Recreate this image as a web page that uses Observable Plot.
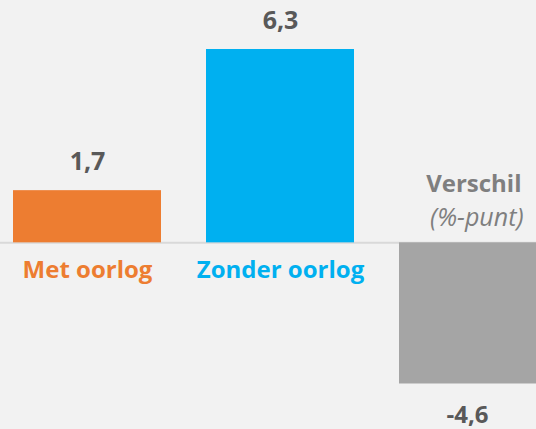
<!DOCTYPE html>
<html>
<head>
<meta charset="utf-8">
<script src="https://cdn.jsdelivr.net/npm/d3@7"></script>
<script src="https://cdn.jsdelivr.net/npm/@observablehq/plot@0.6"></script>
<style>
  html, body { margin: 0; padding: 0; background: #f2f2f2; overflow: hidden; }
  #chart svg { display: block; }
</style>
</head>
<body>
<div id="chart"></div>
<script>
const categories = ["Met oorlog", "Zonder oorlog", "Verschil"];
const values = [1.7, 6.3, -4.6];
const valueLabels = ["1,7", "6,3", "-4,6"];
const subLabels = ["", "", "(%-punt)"];

const barColors = ["#ED7D31", "#00B0F0", "#A5A5A5"];
const labelColors = ["#ED7D31", "#00B0F0", "#7F7F7F"];

const data = categories.map((c, i) => ({
  cat: c, value: values[i], label: valueLabels[i], sub: subLabels[i],
  labelColor: labelColors[i]
}));
const pos = data.filter(d => d.value >= 0);
const neg = data.filter(d => d.value < 0);

const font = "'Open Sans', sans-serif";

const chart = Plot.plot({
  width: 536,
  height: 429,
  margin: 0,
  style: { background: "#f2f2f2", fontFamily: font, overflow: "visible" },
  x: { domain: categories, range: [12, 547], paddingInner: 0.235, paddingOuter: 0, axis: null },
  y: { domain: [-4.6, 6.3], range: [383.5, 49], axis: null },
  color: { domain: categories, range: barColors },
  marks: [
    Plot.ruleY([0], { stroke: "#D9D9D9", strokeWidth: 2 }),
    Plot.barY(data, { x: "cat", y: "value", fill: "cat" }),
    // value labels
    Plot.text(pos, { x: "cat", y: "value", text: "label", lineAnchor: "bottom", dy: -21,
      fill: "#595959", fontSize: 25, fontWeight: "bold", fontFamily: font }),
    Plot.text(neg, { x: "cat", y: "value", text: "label", lineAnchor: "bottom", dy: 39, dx: -6,
      fill: "#595959", fontSize: 24, fontWeight: "bold", fontFamily: font }),
    // category labels
    Plot.text(pos, { x: "cat", y: () => 0, text: "cat", lineAnchor: "bottom", dy: 35,
      fill: "labelColor", fontSize: 24, fontWeight: "bold", fontFamily: font }),
    Plot.text(neg, { x: "cat", y: () => 0, text: "cat", lineAnchor: "bottom", dy: -51, dx: 48,
      textAnchor: "end", fill: "labelColor", fontSize: 24, fontWeight: "bold", fontFamily: font }),
    Plot.text(neg, { x: "cat", y: () => 0, text: "sub", lineAnchor: "bottom", dy: -17, dx: 50,
      textAnchor: "end", fill: "labelColor", fontSize: 25, fontStyle: "italic", fontFamily: font })
  ]
});
document.getElementById("chart").appendChild(chart);
</script>
</body>
</html>
